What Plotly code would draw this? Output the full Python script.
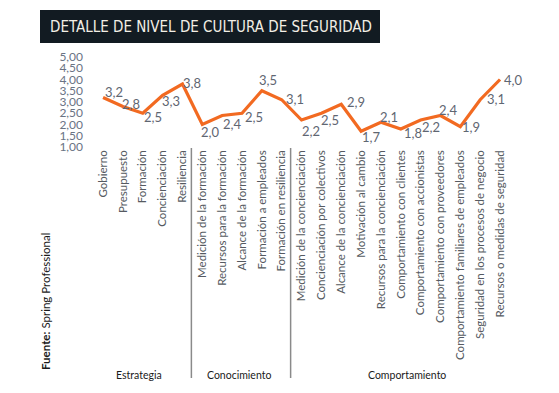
import plotly.graph_objects as go

categories = [
    "Gobierno", "Presupuesto", "Formación", "Concienciación", "Resiliencia",
    "Medición de la formación", "Recursos para la formación", "Alcance de la formación",
    "Formación a empleados", "Formación en resiliencia",
    "Medición de la concienciación", "Concienciación por colectivos",
    "Alcance de la concienciación", "Motivación al cambio",
    "Recursos para la concienciación", "Comportamiento con clientes",
    "Comportamiento con accionistas", "Comportamiento con proveedores",
    "Comportamiento familiares de empleados", "Seguridad en los procesos de negocio",
    "Recursos o medidas de seguridad",
]
values = [3.2, 2.8, 2.5, 3.3, 3.8, 2.0, 2.4, 2.5, 3.5, 3.1,
          2.2, 2.5, 2.9, 1.7, 2.1, 1.8, 2.2, 2.4, 1.9, 3.1, 4.0]
groups = ["Estrategia", "Conocimiento", "Comportamiento"]
group_centers = [1.8, 6.85, 15.3]
separators = [4.45, 9.45]
y_ticks = [1.0, 1.5, 2.0, 2.5, 3.0, 3.5, 4.0, 4.5, 5.0]
y_ticklabels = [f"{v:.2f}".replace(".", ",") for v in y_ticks]

# label offsets in px (dx right, dy down) relative to each point
label_dx = [10.5, 8, 10, 8, 10, 8, 9.7, 12, 6, 13, 9.5, 9, 15, 10, 8, 12, 10, 8, 11, 16, 12.5]
label_dy = [-5.5, -2.5, 3.5, 5.5, -1, 7.5, 8, 4, -11, -1, 11, 7, -2, 6, -5.5, 4, 7, -6, 0, -1, 0]

x_idx = list(range(len(categories)))

# page body has an 8px margin: figure is drawn 8px right/down of the window origin
OFF = 8
W, H = 559 - OFF, 393 - OFF
L, R, T, B = 84 - OFF, 29, 57 - OFF, 246
pw, ph = W - L - R, H - T - B


def px_to_paper_x(px):  # px in window (reference) coordinates
    return (px - OFF - L) / pw


def py_to_paper_y(py):
    return (H - B - (py - OFF)) / ph


FONT = "Lato, 'Noto Sans', sans-serif"
ORANGE = "#f26a21"
GREY = "#5f6672"

fig = go.Figure()
fig.add_trace(go.Scatter(
    x=x_idx, y=values, mode="lines",
    line=dict(color=ORANGE, width=3.2),
    hoverinfo="skip", showlegend=False,
))

annotations = []
for i, v in enumerate(values):
    annotations.append(dict(
        x=i, y=v, xref="x", yref="y",
        text=f"{v:.1f}".replace(".", ","),
        showarrow=False, xanchor="center", yanchor="middle",
        xshift=label_dx[i], yshift=-label_dy[i],
        font=dict(family=FONT, size=13, color=GREY),
    ))

for g, c in zip(groups, group_centers):
    annotations.append(dict(
        x=c, y=py_to_paper_y(375), xref="x", yref="paper",
        text=g, showarrow=False, xanchor="center", yanchor="middle",
        font=dict(family=FONT, size=10.5, color="#1a1a1a"),
    ))

annotations.append(dict(
    x=px_to_paper_x(45), y=py_to_paper_y(302), xref="paper", yref="paper",
    text="<b>Fuente:</b> Spring Professional", textangle=-90,
    showarrow=False, xanchor="center", yanchor="middle",
    font=dict(family=FONT, size=11.5, color="#1a1a1a"),
))

annotations.append(dict(
    x=px_to_paper_x(48), y=py_to_paper_y(26.5), xref="paper", yref="paper",
    text="DETALLE DE NIVEL DE CULTURA DE SEGURIDAD",
    showarrow=False, xanchor="left", yanchor="middle",
    font=dict(family="'Liberation Sans Narrow', 'DejaVu Sans Condensed', sans-serif",
              size=15, color="#f3efe6"),
))

shapes = [dict(
    type="rect", xref="paper", yref="paper",
    x0=px_to_paper_x(40), x1=px_to_paper_x(380),
    y0=py_to_paper_y(43), y1=py_to_paper_y(10),
    fillcolor="#121b22", line=dict(width=0), layer="below",
)]
for s in separators:
    shapes.append(dict(
        type="line", xref="x", yref="paper",
        x0=s, x1=s, y0=py_to_paper_y(148), y1=py_to_paper_y(378),
        line=dict(color="#8a8a8a", width=1.5),
    ))

fig.update_layout(
    width=W, height=H,
    margin=dict(l=L, r=R, t=T, b=B, autoexpand=False),
    paper_bgcolor="white", plot_bgcolor="white",
    xaxis=dict(
        range=[-0.96, 21.51], tickmode="array", tickvals=x_idx, ticktext=categories,
        tickangle=-90, showgrid=False, zeroline=False, showline=False, ticks="",
        tickfont=dict(family=FONT, size=11.5, color="#555a61"), automargin=False,
    ),
    yaxis=dict(
        range=[1, 5], tickmode="array", tickvals=y_ticks, ticktext=y_ticklabels,
        showgrid=False, zeroline=False, showline=False, ticks="",
        tickfont=dict(family=FONT, size=12, color="#6a7384"), automargin=False,
    ),
    annotations=annotations, shapes=shapes,
)

fig.write_html("out.html")
